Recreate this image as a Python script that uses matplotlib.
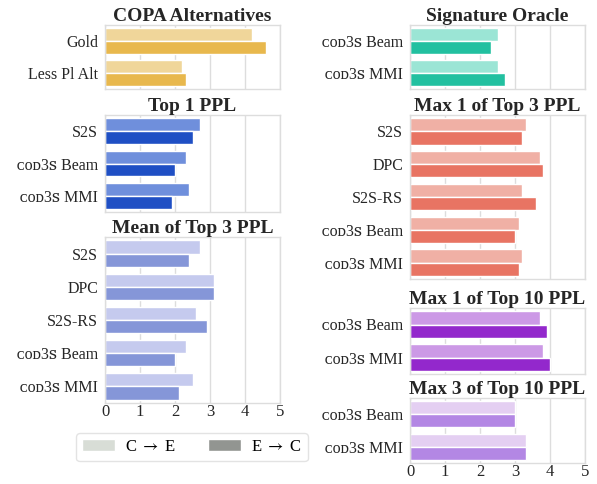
import numpy as np
import matplotlib
matplotlib.use("Agg")
from matplotlib import pyplot as plt
from matplotlib.patches import Patch

plt.rcParams['font.family'] = ['Liberation Serif', 'DejaVu Serif']
plt.rcParams['mathtext.fontset'] = 'stix'

SC = 'ᴄᴏᴅ3ꜱ'  # small caps

copa_cats = ['Gold', 'Less Pl Alt']
copa_ce = [4.2, 2.2]
copa_ec = [4.6, 2.3]

top1_cats = ['S2S', SC + ' Beam', SC + ' MMI']
top1_ce = [2.7, 2.3, 2.4]
top1_ec = [2.5, 2.0, 1.9]

mean3_cats = ['S2S', 'DPC', 'S2S-RS', SC + ' Beam', SC + ' MMI']
mean3_ce = [2.7, 3.1, 2.6, 2.3, 2.5]
mean3_ec = [2.4, 3.1, 2.9, 2.0, 2.1]

sig_cats = [SC + ' Beam', SC + ' MMI']
sig_ce = [2.5, 2.5]
sig_ec = [2.3, 2.7]

max1top3_cats = ['S2S', 'DPC', 'S2S-RS', SC + ' Beam', SC + ' MMI']
max1top3_ce = [3.3, 3.7, 3.2, 3.1, 3.2]
max1top3_ec = [3.2, 3.8, 3.6, 3.0, 3.1]

max1top10_cats = [SC + ' Beam', SC + ' MMI']
max1top10_ce = [3.7, 3.8]
max1top10_ec = [3.9, 4.0]

max3top10_cats = [SC + ' Beam', SC + ' MMI']
max3top10_ce = [3.0, 3.3]
max3top10_ec = [3.0, 3.3]

W, H = 597, 484
fig = plt.figure(figsize=(W / 100, H / 100), dpi=100)


def add_panel(x0, x1, y0, y1, title, cats, ce, ec, c_light, c_dark, show_x):
    ax = fig.add_axes([x0 / W, 1 - y1 / H, (x1 - x0) / W, (y1 - y0) / H])
    y = np.arange(len(cats))
    ax.barh(y - 0.2, ce, height=0.4, color=c_light, edgecolor='white', linewidth=1, zorder=2)
    ax.barh(y + 0.2, ec, height=0.4, color=c_dark, edgecolor='white', linewidth=1, zorder=2)
    ax.set_xlim(0, 5)
    ax.set_ylim(len(cats) - 0.5, -0.5)
    ax.set_yticks(y)
    ax.set_yticklabels(cats, fontsize=11.5, color='#262626')
    ax.set_xticks(range(6))
    ax.grid(axis='x', color='#dddddd', linewidth=1, zorder=0)
    ax.set_axisbelow(True)
    for s in ax.spines.values():
        s.set_color('#dddddd')
        s.set_linewidth(1)
    ax.tick_params(axis='y', length=0, pad=5)
    ax.tick_params(axis='x', length=0, pad=1)
    if show_x:
        ax.tick_params(axis='x', labelsize=12, labelcolor='#262626')
    else:
        ax.set_xticklabels([])
    ax.set_title(title, fontsize=14, fontweight='bold', color='#262626', pad=3)
    return ax


L0, L1 = 105, 280
R0, R1 = 410, 585
add_panel(L0, L1, 25, 89, 'COPA Alternatives', copa_cats, copa_ce, copa_ec, '#f0d69a', '#e8b84d', False)
add_panel(L0, L1, 115, 212, 'Top 1 PPL', top1_cats, top1_ce, top1_ec, '#6f8fdc', '#1f4fc4', False)
add_panel(L0, L1, 237, 403, 'Mean of Top 3 PPL', mean3_cats, mean3_ce, mean3_ec, '#c5caee', '#8596d8', True)
add_panel(R0, R1, 25, 89, 'Signature Oracle', sig_cats, sig_ce, sig_ec, '#9be5d5', '#22c0a0', False)
add_panel(R0, R1, 115, 279, 'Max 1 of Top 3 PPL', max1top3_cats, max1top3_ce, max1top3_ec, '#f0b0a5', '#e87463', False)
add_panel(R0, R1, 308, 374, 'Max 1 of Top 10 PPL', max1top10_cats, max1top10_ce, max1top10_ec, '#cc99e6', '#9328cc', False)
add_panel(R0, R1, 398, 463, 'Max 3 of Top 10 PPL', max3top10_cats, max3top10_ce, max3top10_ec, '#e4cff2', '#b387e4', True)

handles = [Patch(facecolor='#d8ddd6', edgecolor='white'), Patch(facecolor='#929591', edgecolor='white')]
fig.legend(handles, [r'C $\rightarrow$ E', r'E $\rightarrow$ C'], ncol=2, loc='center',
           bbox_to_anchor=(192 / W, 1 - 447 / H), fontsize=12, frameon=True,
           handlelength=2.0, handleheight=0.7, handletextpad=0.6, columnspacing=1.9,
           edgecolor='#dddddd', borderpad=0.35, borderaxespad=0)

fig.savefig('out.png', dpi=100)
